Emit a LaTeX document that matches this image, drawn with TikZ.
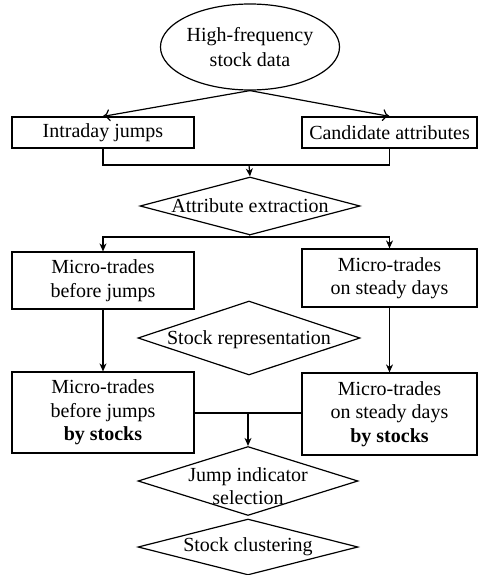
\documentclass[tikz,border=0pt]{standalone}
\usepackage{fontspec}
\setmainfont{Liberation Serif}
\usetikzlibrary{shapes.geometric,arrows.meta}
\begin{document}
\begin{tikzpicture}[x=1pt,y=-1pt,
  font=\fontsize{20}{23.5}\selectfont,
  every path/.style={line width=1.2pt},
  box/.style={draw, rectangle, inner sep=0pt, align=center},
  dia/.style={draw, diamond, inner sep=0pt},
  ell/.style={draw, ellipse, inner sep=0pt, align=center},
  openarr/.style={-{To[length=7pt,width=12pt]}},
  arr/.style={-{Stealth[length=8pt,width=7pt,inset=2.5pt]}}
]
\useasboundingbox (0,0) rectangle (478,575);
\node[ell, minimum width=156pt, minimum height=86pt] (hf) at (250,47) {High-frequency\\[1pt]stock data};
\node[box, minimum width=182pt, minimum height=31pt] (ij) at (103,132.5) {Intraday jumps};
\node[box, minimum width=175pt, minimum height=31pt] (ca) at (389.5,132.5) {Candidate attributes};
\node[dia, minimum width=220pt, minimum height=58pt, label=center:{Attribute extraction}] (ae) at (250,206) {};
\node[box, minimum width=182pt, minimum height=57pt] (mbj) at (103,280.5) {Micro-trades\\before jumps};
\node[box, minimum width=175pt, minimum height=58pt] (msd) at (389.5,278) {Micro-trades\\on steady days};
\node[dia, minimum width=222pt, minimum height=74pt, label={[yshift=-2pt]center:Stock representation}] (sr) at (249,338) {};
\node[box, minimum width=182pt, minimum height=81pt] (mbjs) at (103,412.5) {Micro-trades\\before jumps\\\textbf{by stocks}};
\node[box, minimum width=175pt, minimum height=82pt] (msds) at (389.5,414) {Micro-trades\\on steady days\\\textbf{by stocks}};
\node[dia, minimum width=220pt, minimum height=69pt, label={[yshift=-5pt,align=center]center:Jump indicator\\selection}] (jis) at (248,481) {};
\node[dia, minimum width=220pt, minimum height=56pt, label=center:{Stock clustering}] (sc) at (248,547) {};
\coordinate (m1) at (249,165);
\coordinate (m2) at (249,237);
\coordinate (m3) at (248,413);
\draw[openarr] (hf.south) -- (ij.north);
\draw[openarr] (hf.south) -- (ca.north);
\draw (ij.south) |- (m1) -| (ca.south);
\draw[arr] (m1) -- (ae.north);
\draw (ae.south) -- (m2);
\draw[arr] (m2) -| (mbj.north);
\draw[arr] (m2) -| (msd.north);
\draw[arr] (mbj.south) -- (mbjs.north);
\draw[arr] (msd.south) -- (msds.north);
\draw (mbjs.east |- m3) -- (m3) -- (msds.west |- m3);
\draw[arr] (m3) -- (jis.north);
\end{tikzpicture}
\end{document}
